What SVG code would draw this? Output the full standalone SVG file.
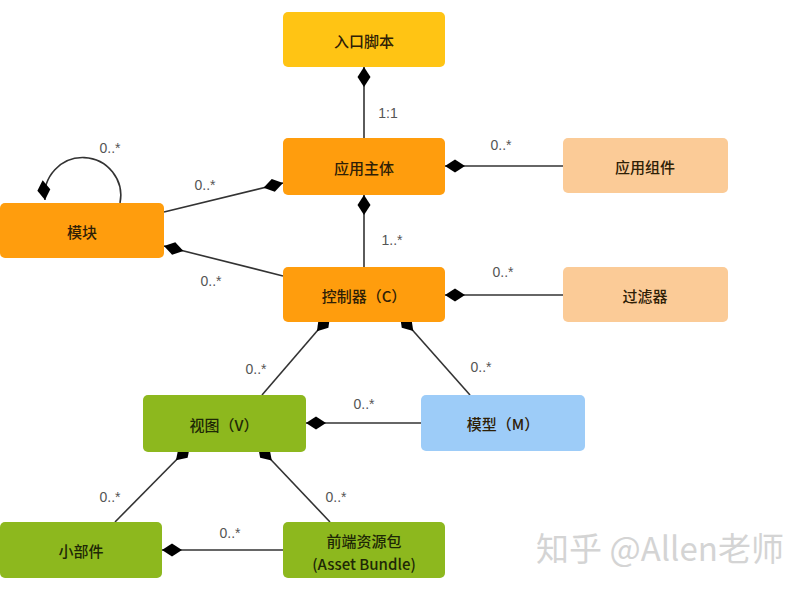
<svg xmlns="http://www.w3.org/2000/svg" width="800" height="600" viewBox="0 0 800 600">
<defs>
<marker id="dia" markerUnits="userSpaceOnUse" markerWidth="22" markerHeight="14" refX="0" refY="7" orient="auto" overflow="visible">
<path d="M0,7 L10,0.5 L20,7 L10,13.5 Z" fill="#000"/>
</marker>
<style>
.box{stroke:none}
.yel{fill:#FFC414}
.org{fill:#FF9D0D}
.pch{fill:#FBCB97}
.grn{fill:#8DB81E}
.blu{fill:#9DCCF8}
.t{font-family:"Noto Sans CJK SC","Liberation Sans",sans-serif;font-size:15px;font-weight:500;fill:#2e2006;text-anchor:middle;dominant-baseline:central}
.tg{fill:#1e2806}
.lbl{font-family:"Liberation Sans",sans-serif;font-size:14px;fill:#555;text-anchor:middle}
.c{stroke:#333;stroke-width:1.6;fill:none}
</style>
</defs>
<rect width="800" height="600" fill="#fff"/>
<g id="connectors">
<path class="c" d="M364,67 L364,138" marker-start="url(#dia)"/>
<path class="c" d="M445,166 L563,166" marker-start="url(#dia)"/>
<path class="c" d="M283,183 L164,212" marker-start="url(#dia)"/>
<path class="c" d="M45,200 A38,38 0 1 1 120,203" marker-start="url(#dia)"/>
<path class="c" d="M364,195 L364,267" marker-start="url(#dia)"/>
<path class="c" d="M164,246 L283,276" marker-start="url(#dia)"/>
<path class="c" d="M445,295 L563,295" marker-start="url(#dia)"/>
<path class="c" d="M330,316 L262,395" marker-start="url(#dia)"/>
<path class="c" d="M400,316 L470,395" marker-start="url(#dia)"/>
<path class="c" d="M306,423 L421,423" marker-start="url(#dia)"/>
<path class="c" d="M190,446 L115,522" marker-start="url(#dia)"/>
<path class="c" d="M258,446 L330,522" marker-start="url(#dia)"/>
<path class="c" d="M162,550 L283,550" marker-start="url(#dia)"/>
<text class="lbl" x="388" y="118">1:1</text>
<text class="lbl" x="501" y="150">0..*</text>
<text class="lbl" x="205" y="190">0..*</text>
<text class="lbl" x="110" y="153">0..*</text>
<text class="lbl" x="392" y="245">1..*</text>
<text class="lbl" x="211" y="286">0..*</text>
<text class="lbl" x="503" y="277">0..*</text>
<text class="lbl" x="256" y="374">0..*</text>
<text class="lbl" x="481" y="372">0..*</text>
<text class="lbl" x="364" y="409">0..*</text>
<text class="lbl" x="110" y="502">0..*</text>
<text class="lbl" x="336" y="502">0..*</text>
<text class="lbl" x="230" y="538">0..*</text>
</g>
<g id="entry"><rect class="box yel" x="283" y="12" width="162" height="55" rx="5"/><text class="t" x="364" y="40">入口脚本</text></g>
<g id="app"><rect class="box org" x="283" y="138" width="162" height="57" rx="5"/><text class="t" x="364" y="167">应用主体</text></g>
<g id="appcomp"><rect class="box pch" x="563" y="138" width="165" height="55" rx="5"/><text class="t" x="645" y="166">应用组件</text></g>
<g id="module"><rect class="box org" x="0" y="203" width="164" height="55" rx="5"/><text class="t" x="82" y="231">模块</text></g>
<g id="controller"><rect class="box org" x="283" y="267" width="162" height="55" rx="5"/><text class="t" x="364" y="295">控制器（C）</text></g>
<g id="filter"><rect class="box pch" x="563" y="267" width="165" height="55" rx="5"/><text class="t" x="645" y="295">过滤器</text></g>
<g id="view"><rect class="box grn" x="143" y="395" width="163" height="57" rx="5"/><text class="t tg" x="224" y="424">视图（V）</text></g>
<g id="model"><rect class="box blu" x="421" y="395" width="164" height="56" rx="5"/><text class="t" x="503" y="423">模型（M）</text></g>
<g id="widget"><rect class="box grn" x="0" y="522" width="162" height="56" rx="5"/><text class="t tg" x="81" y="550">小部件</text></g>
<g id="bundle"><rect class="box grn" x="283" y="522" width="162" height="56" rx="5"/><text class="t tg" x="364" y="540">前端资源包</text><text class="t tg" x="364" y="563">(Asset Bundle)</text></g>
<text x="660" y="561" font-family="Noto Sans CJK SC,Liberation Sans,sans-serif" font-size="33" fill="#d4d4d4" text-anchor="middle">知乎 @Allen老师</text>
</svg>
